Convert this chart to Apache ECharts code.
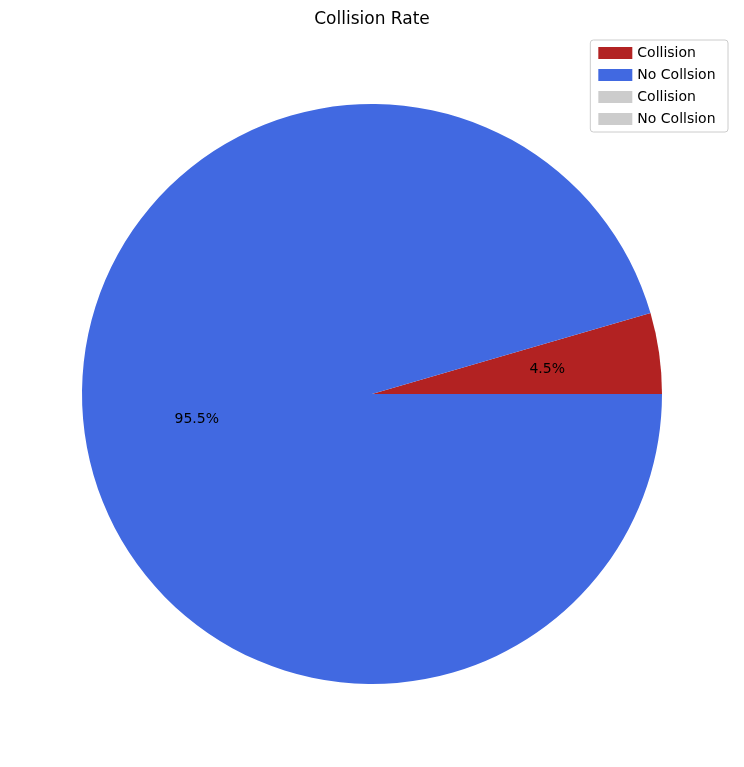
<!DOCTYPE html>
<html>
<head>
<meta charset="UTF-8">
<script src="https://cdn.jsdelivr.net/npm/echarts@6/dist/echarts.min.js"></script>
<style>html,body{margin:0;background:#fff}#c{width:744px;height:767px}</style>
</head>
<body>
<div id="c"></div>
<script>
var categories = ['Collision', 'No Collsion'];
var values = [4.5, 95.5];
var colors = ['#b22222', '#4169e1'];

var data = categories.map(function (n, i) {
    return { name: n, value: values[i], itemStyle: { color: colors[i] } };
});
var chart = echarts.init(document.getElementById('c'));
chart.setOption({
    animation: false,
    title: { text: 'Collision Rate', left: 'center', top: 6,
        textStyle: { fontFamily: 'DejaVu Sans', fontSize: 17, fontWeight: 'normal', color: '#000' } },
    legend: {
        right: 16, top: 40, orient: 'vertical', itemWidth: 34, itemHeight: 12, itemGap: 8,
        icon: 'rect', padding: [6, 8], borderColor: '#ccc', borderWidth: 1, borderRadius: 3,
        textStyle: { fontFamily: 'DejaVu Sans', fontSize: 14, color: '#000' }
    },
    series: [{
        type: 'pie', center: [372, 394], radius: 290, startAngle: 0, clockwise: false,
        label: { show: false }, labelLine: { show: false }, data: data
    }, {
        // label-only ring so labels sit at 0.6 of the radius
        type: 'pie', center: [372, 394], radius: [58, 290], startAngle: 0, clockwise: false,
        silent: true, legendHoverLink: false,
        itemStyle: { color: 'transparent' },
        label: { show: true, position: 'inside', formatter: '{d}%',
            fontFamily: 'DejaVu Sans', fontSize: 14, color: '#000' },
        labelLine: { show: false },
        data: categories.map(function (n, i) { return { name: n + ' ', value: values[i] }; })
    }]
});
</script>
</body>
</html>
